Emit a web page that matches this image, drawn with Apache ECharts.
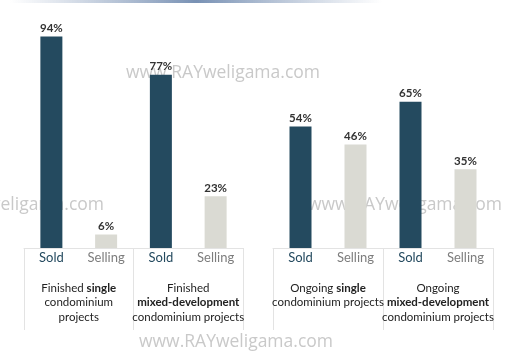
<!DOCTYPE html>
<html>
<head>
<meta charset="utf-8">
<script src="https://cdn.jsdelivr.net/npm/echarts@6/dist/echarts.min.js"></script>
<style>html,body{margin:0;padding:0;background:#fff;}#c{width:517px;height:352px;}</style>
</head>
<body>
<div id="c"></div>
<script>
var barLabels = ['Sold', 'Selling'];
var groupLabels = [
  'Finished {b|single}\ncondominium\nprojects',
  'Finished\n{b|mixed-development}\ncondominium projects',
  'Ongoing {b|single}\ncondominium projects',
  'Ongoing\n{b|mixed-development}\ncondominium projects'
];
var soldValues = [94, 77, 54, 65];
var sellingValues = [6, 23, 46, 35];
var watermarkText = 'www.RAYweligama.com';

var NAVY = '#244a5f', GRAY = '#dadad3', LINE = '#e3e3e3';
var FONT = 'Lato';

function gridData(g0) {
  var d = [];
  for (var g = g0; g < g0 + 2; g++) {
    d.push({ value: soldValues[g], itemStyle: { color: NAVY } });
    d.push({ value: sellingValues[g], itemStyle: { color: GRAY } });
  }
  return d;
}
var catData = [barLabels[0], barLabels[1], barLabels[0], barLabels[1]];

var grids = [
  { left: 24, width: 219, top: 23, bottom: 104 },
  { left: 273, width: 220, top: 23, bottom: 104 }
];
var xAxes = [], yAxes = [], series = [];
for (var i = 0; i < 2; i++) {
  xAxes.push({
    type: 'category', gridIndex: i, data: catData, position: 'bottom',
    axisLine: { show: false }, axisTick: { show: false },
    axisLabel: {
      interval: 0, margin: 3, fontFamily: FONT, fontSize: 13,
      formatter: function (v) { return v === 'Sold' ? '{s|Sold}' : '{g|Selling}'; },
      rich: { s: { color: NAVY, fontSize: 13, fontFamily: FONT }, g: { color: '#7d7d7d', fontSize: 13, fontFamily: FONT } }
    }
  });
  xAxes.push({
    type: 'category', gridIndex: i, data: [groupLabels[i * 2], groupLabels[i * 2 + 1]], position: 'bottom',
    axisLine: { show: true, lineStyle: { color: LINE, width: 1 } },
    axisTick: { show: true, interval: 0, length: 82, lineStyle: { color: LINE, width: 1 } },
    axisLabel: {
      interval: 0, margin: 33, fontFamily: FONT, fontSize: 11.5, color: '#222', lineHeight: 14.5, align: 'center',
      rich: { b: { fontWeight: 'bold', fontFamily: FONT, fontSize: 11.5, color: '#222', lineHeight: 14.5 } }
    }
  });
  yAxes.push({ type: 'value', gridIndex: i, min: 0, max: 100, show: false, splitLine: { show: false } });
  series.push({
    type: 'bar', xAxisIndex: i * 2, yAxisIndex: i, barWidth: 22, z: 3,
    data: gridData(i * 2),
    label: { show: true, position: 'top', distance: 2, formatter: '{c}%', fontWeight: 'bold', fontSize: 11.5, color: '#333', fontFamily: FONT }
  });
}

function wm(x, y) {
  return { type: 'text', x: x, y: y, z: 0, style: { text: watermarkText, fill: '#c9c9c9', font: '17.5px "Open Sans"', textAlign: 'center', textVerticalAlign: 'middle' } };
}

var chart = echarts.init(document.getElementById('c'), null, { renderer: 'canvas' });
chart.setOption({
  animation: false,
  grid: grids,
  xAxis: xAxes,
  yAxis: yAxes,
  series: series,
  graphic: [
    { type: 'rect', shape: { x: 10, y: 0, width: 372, height: 3 }, z: 0,
      style: { fill: new echarts.graphic.LinearGradient(0, 0, 1, 0, [
        { offset: 0, color: 'rgba(140,160,190,0)' },
        { offset: 0.5, color: 'rgba(120,145,180,1)' },
        { offset: 1, color: 'rgba(140,160,190,0)' }]) } },
    wm(223, 73), wm(7, 205), wm(405, 205), wm(236, 342)
  ]
});
</script>
</body>
</html>
